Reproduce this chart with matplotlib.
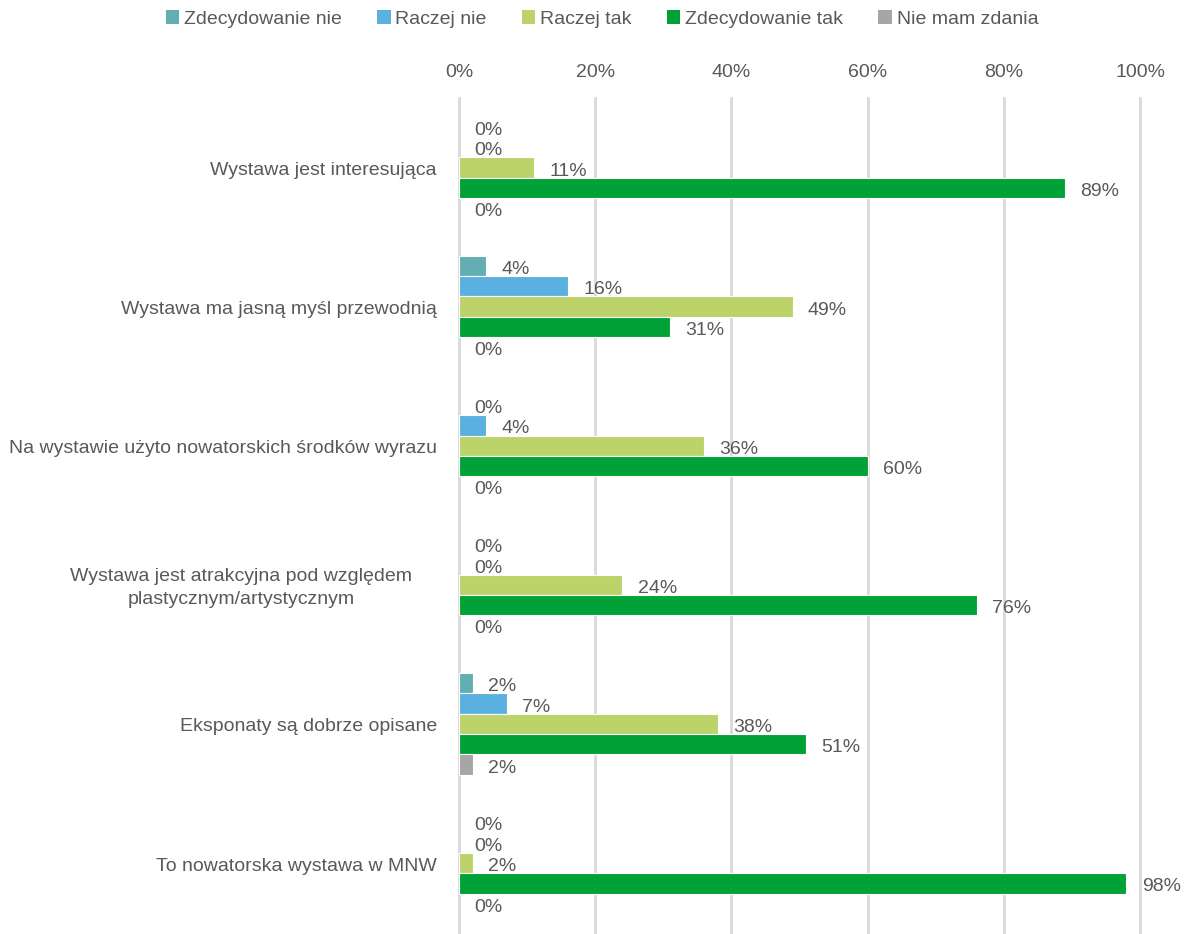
import matplotlib.pyplot as plt
import matplotlib.transforms as mtransforms
import numpy as np
from matplotlib.patches import Patch

plt.rcParams["font.family"] = ["Liberation Sans", "DejaVu Sans"]

statements = [
    "Wystawa jest interesująca",
    "Wystawa ma jasną myśl przewodnią",
    "Na wystawie użyto nowatorskich środków wyrazu",
    "Wystawa jest atrakcyjna pod względem\nplastycznym/artystycznym",
    "Eksponaty są dobrze opisane",
    "To nowatorska wystawa w MNW",
]
answers = ["Zdecydowanie nie", "Raczej nie", "Raczej tak", "Zdecydowanie tak", "Nie mam zdania"]

zdecydowanie_nie = [0, 4, 0, 0, 2, 0]
raczej_nie = [0, 16, 4, 0, 7, 0]
raczej_tak = [11, 49, 36, 24, 38, 2]
zdecydowanie_tak = [89, 31, 60, 76, 51, 98]
nie_mam_zdania = [0, 0, 0, 0, 2, 0]

colors = ["#62AEB2", "#5AB0DE", "#BCD36A", "#00A136", "#A6A6A6"]
text_color = "#595959"
fs = 14

series = [zdecydowanie_nie, raczej_nie, raczej_tak, zdecydowanie_tak, nie_mam_zdania]

fig = plt.figure(figsize=(11.84, 9.34), dpi=100)
ax = fig.add_axes([459 / 1184, 0.0, 681 / 1184, 1 - 98 / 934])

y = np.arange(len(statements))
bar_h = 0.146
for k, (vals, col) in enumerate(zip(series, colors)):
    pos = y + (k - 2) * bar_h
    lw = [0.8 if v > 0 else 0 for v in vals]
    ax.barh(pos, vals, height=bar_h, color=col, edgecolor="white", linewidth=lw, zorder=3)
    for p, v in zip(pos, vals):
        ax.annotate(f"{v}%", xy=(v, p), xytext=(11, -2.5), textcoords="offset points",
                    ha="left", va="center", fontsize=fs, color=text_color)

ax.set_xlim(0, 100)
ax.set_ylim(5.51, -0.5)
ticks = np.arange(0, 101, 20)
ax.set_xticks(ticks)
ax.set_xticklabels([f"{t}%" for t in ticks])
ax.xaxis.tick_top()
ax.tick_params(axis="x", length=0, pad=12.5, labelsize=fs, labelcolor=text_color)
ax.set_yticks([])
for t in ticks:
    ax.axvline(t, color="#D9D9D9", linewidth=2, zorder=0, clip_on=False)
for s in ax.spines.values():
    s.set_visible(False)

# category labels, right-aligned left of the axis; wrapped ones sit a bit further in
for yi, label in zip(y, statements):
    shift = -47 if "\n" in label else -22
    tr = ax.get_yaxis_transform() + mtransforms.ScaledTranslation(shift / 100, -3 / 100, fig.dpi_scale_trans)
    ax.text(0, yi, label, transform=tr, ha="right", va="center", multialignment="center",
            fontsize=fs, color=text_color, linespacing=1.45)

handles = [Patch(facecolor=c, edgecolor="none") for c in colors]
fig.legend(handles, answers, loc="center", bbox_to_anchor=(0.5 + 10 / 1184, 1 - 19 / 934), ncol=5,
           frameon=False, fontsize=fs, labelcolor=text_color, handlelength=0.7,
           handleheight=0.7, handletextpad=0.25, columnspacing=1.8)

fig.savefig("out.png", dpi=100)
